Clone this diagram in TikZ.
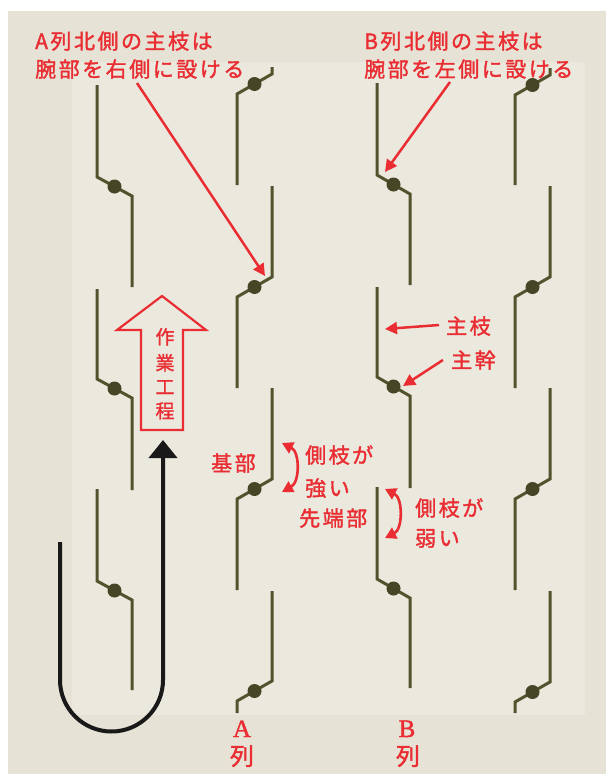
\documentclass[tikz,border=0pt]{standalone}
\usepackage{fontspec}
\setmainfont{Noto Sans CJK JP}
\newfontfamily\lblfont[LetterSpace=12,FakeBold=1.6]{Noto Sans CJK JP}
\newfontfamily\jpfont[FakeBold=1.6]{Noto Sans CJK JP}
\newfontfamily\serifA[FakeBold=1.5]{Liberation Serif}
\usetikzlibrary{arrows.meta,calc}
\definecolor{bgout}{RGB}{231,226,214}
\definecolor{bgin}{RGB}{235,232,222}
\definecolor{olive}{RGB}{82,82,45}
\definecolor{knotc}{RGB}{70,70,38}
\definecolor{redc}{RGB}{233,45,50}

\newcommand\ZDown[6]{% name, Lx, Rx, ny, top y, bottom y (left top, right bottom)
  \coordinate (#1t) at (#2,#5);
  \coordinate (#1a) at (#2,{#4-9});
  \coordinate (#1b) at (#3,{#4+10});
  \coordinate (#1e) at (#3,#6);
  \draw[branch] (#1t) -- (#1a) -- (#1b) -- (#1e);
  \node[knot] (#1) at ($(#1a)!0.5!(#1b)$) {};
}
\newcommand\SDown[6]{% name, Lx, Rx, ny, top y, bottom y (right top, left bottom)
  \coordinate (#1t) at (#3,#5);
  \coordinate (#1a) at (#3,{#4-10});
  \coordinate (#1b) at (#2,{#4+10});
  \coordinate (#1e) at (#2,#6);
  \draw[branch] (#1t) -- (#1a) -- (#1b) -- (#1e);
  \node[knot] (#1) at ($(#1a)!0.5!(#1b)$) {};
}

\begin{document}
\begin{tikzpicture}[x=1pt,y=-1pt,
  branch/.style={draw=olive, line width=3pt},
  knot/.style={circle, fill=knotc, minimum size=14pt, inner sep=0pt},
  lbl/.style={text=redc, font=\lblfont\fontsize{21}{25}\selectfont, inner sep=0pt, anchor=base west},
  vlbl/.style={text=redc, font=\jpfont\fontsize{19}{22}\selectfont, inner sep=0pt, anchor=base},
  colA/.style={text=redc, font=\serifA\fontsize{25}{28}\selectfont, inner sep=0pt, anchor=base},
  colJ/.style={text=redc, font=\jpfont\fontsize{24}{28}\selectfont, inner sep=0pt, anchor=base},
  redarrow/.style={draw=redc, line width=2.5pt, -{Triangle[length=12pt,width=12pt]}},
  dblarrow/.style={draw=redc, line width=2.6pt, {Triangle[length=11pt,width=12pt]}-{Triangle[length=11pt,width=12pt]}},
  blockarrow/.style={draw=redc, line width=2.2pt, line join=miter},
  uarrow/.style={draw=black!90, line width=4pt, -{Triangle[length=18pt,width=28pt]}}
]
\useasboundingbox (0,0) rectangle (606,774);
\fill[white] (0,0) rectangle (606,774);
\fill[bgout] (8,11) rectangle (606,774);
\fill[bgin] (72,62) rectangle (585,715);

% chain 1 (left)
\ZDown{c1a}{97}{132}{186}{85}{287}
\ZDown{c1b}{97}{132}{388}{289}{490}
\ZDown{c1c}{97}{132}{590}{489}{690}
% chain 2 (A row)
\SDown{c2a}{237}{272}{84}{67}{185}
\SDown{c2b}{237}{272}{287}{186}{388}
\SDown{c2c}{237}{272}{489}{388}{590}
\SDown{c2d}{237}{272}{691}{591}{713}
% chain 3 (B row)
\ZDown{c3a}{377}{410}{184}{83}{285}
\ZDown{c3b}{377}{410}{386}{287}{488}
\ZDown{c3c}{377}{410}{588}{487}{688}
% chain 4 (right)
\SDown{c4a}{515}{550}{85}{68}{185}
\SDown{c4b}{515}{550}{287}{186}{388}
\SDown{c4c}{515}{550}{489}{388}{590}
\SDown{c4d}{515}{550}{692}{591}{713}

% top texts
\node[lbl] (ta1) at (35,49) {A列北側の主枝は};
\node[lbl] (ta2) at (35,77) {腕部を右側に設ける};
\node[lbl] (tb1) at (364,49) {B列北側の主枝は};
\node[lbl] (tb2) at (364,77) {腕部を左側に設ける};

\coordinate (aas) at (137,83);
\coordinate (aae) at (265,276);
\draw[redarrow] (aas) -- (aae);
\coordinate (bas) at (450,82);
\coordinate (bae) at (385,172);
\draw[redarrow] (bas) -- (bae);

% 主枝 / 主幹
\node[lbl] (tshu) at (446,334) {主枝};
\node[lbl] (tkan) at (451,368) {主幹};
\coordinate (shs) at (439,325);
\coordinate (she) at (385,329);
\draw[redarrow] (shs) -- (she);
\coordinate (kas) at (443,360);
\coordinate (kae) at (403,386);
\draw[redarrow] (kas) -- (kae);

% base / tip labels
\node[lbl] (tkibu) at (211,471) {基部};
\node[lbl] (tst1) at (305,463) {側枝が};
\node[lbl] (tst2) at (305,496) {強い};
\node[lbl] (tsen) at (299,526) {先端部};
\node[lbl] (twk1) at (415,516) {側枝が};
\node[lbl] (twk2) at (415,546) {弱い};

\coordinate (d1s) at (282,443);
\coordinate (d1e) at (282,492);
\draw[dblarrow] (d1s) .. controls (300,452) and (300,482) .. (d1e);
\coordinate (d2s) at (385,489);
\coordinate (d2e) at (385,538);
\draw[dblarrow] (d2s) .. controls (403,498) and (403,529) .. (d2e);

% work process block arrow
\draw[blockarrow] (162,296) -- (206,330) -- (183,330) -- (183,430) -- (141,430) -- (141,330) -- (117,330) -- cycle;
\node[vlbl] (w1) at (165,344) {作};
\node[vlbl] (w2) at (165,370) {業};
\node[vlbl] (w3) at (165,394) {工};
\node[vlbl] (w4) at (165,418) {程};

% U arrow
\coordinate (us) at (60,542);
\coordinate (ut) at (163,440);
\draw[uarrow] (us) -- (60,680) arc[start angle=180, end angle=360, radius=51.5pt] -- (ut);

% column labels
\node[colA] (la) at (242,737) {A};
\node[colJ] (laj) at (242,765) {列};
\node[colA] (lb) at (407,737) {B};
\node[colJ] (lbj) at (408,765) {列};
\end{tikzpicture}
\end{document}
